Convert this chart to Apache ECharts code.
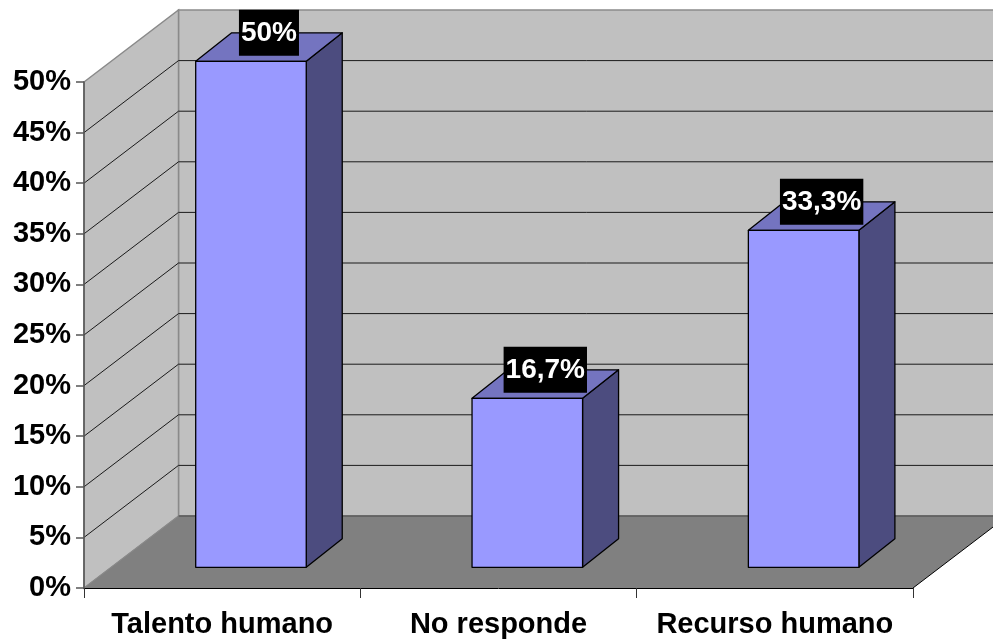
<!DOCTYPE html>
<html>
<head>
<meta charset="utf-8">
<script src="https://cdn.jsdelivr.net/npm/echarts@6/dist/echarts.min.js"></script>
<style>
  html, body { margin: 0; padding: 0; background: #fff; }
  #chart { width: 993px; height: 639px; }
</style>
</head>
<body>
<div id="chart"></div>
<script>
// Survey answers, in percent
const categories = ['Talento humano', 'No responde', 'Recurso humano'];
const percentages = [50, 16.7, 33.3];
// Value-axis ticks (percent)
const yTicks = [0, 5, 10, 15, 20, 25, 30, 35, 40, 45, 50];

const FONT = '"Liberation Sans", Arial, sans-serif';

// Depth of the 3D box (walls and floor), in pixels
const WALL_DX = 94.5, WALL_DY = -72;
// Bar placement inside the box: front-face shift and bar depth
const BAR_OX = 28.8, BAR_OY = -20.7;
const BAR_DX = 36, BAR_DY = -28.5;
const BAR_FRACTION = 0.40;

function fmtPct(v) {
  return String(v).replace('.', ',') + '%';
}

const chart = echarts.init(document.getElementById('chart'), null, { renderer: 'canvas' });

function renderWalls(params, api) {
  const cs = params.coordSys;
  const x0 = cs.x, x1 = cs.x + cs.width;
  const yMax = api.coord([0, yTicks[yTicks.length - 1]])[1];
  const y0 = api.coord([0, 0])[1];
  const children = [];
  // back wall
  children.push({
    type: 'polygon',
    shape: { points: [[x0 + WALL_DX, yMax + WALL_DY], [x1 + WALL_DX, yMax + WALL_DY],
                      [x1 + WALL_DX, y0 + WALL_DY], [x0 + WALL_DX, y0 + WALL_DY]] },
    style: { fill: '#C0C0C0', stroke: '#8a8a8a', lineWidth: 1.5 }
  });
  // side wall
  children.push({
    type: 'polygon',
    shape: { points: [[x0, yMax], [x0 + WALL_DX, yMax + WALL_DY],
                      [x0 + WALL_DX, y0 + WALL_DY], [x0, y0]] },
    style: { fill: '#C0C0C0', stroke: '#8a8a8a', lineWidth: 1.5 }
  });
  // floor
  children.push({
    type: 'polygon',
    shape: { points: [[x0, y0], [x1, y0], [x1 + WALL_DX, y0 + WALL_DY], [x0 + WALL_DX, y0 + WALL_DY]] },
    style: { fill: '#808080', stroke: null }
  });
  children.push({
    type: 'line',
    shape: { x1: x0 + WALL_DX, y1: y0 + WALL_DY, x2: x1 + WALL_DX, y2: y0 + WALL_DY },
    style: { stroke: '#5a5a5a', lineWidth: 1.5 }
  });
  children.push({
    type: 'line',
    shape: { x1: x1, y1: y0, x2: x1 + WALL_DX, y2: y0 + WALL_DY },
    style: { stroke: '#000', lineWidth: 1 }
  });
  children.push({
    type: 'line',
    shape: { x1: x0, y1: y0, x2: x0 + WALL_DX, y2: y0 + WALL_DY },
    style: { stroke: '#8a8a8a', lineWidth: 1 }
  });
  // grid lines on side wall and back wall
  yTicks.forEach(function (t) {
    if (t === 0 || t === yTicks[yTicks.length - 1]) return;
    const y = api.coord([0, t])[1];
    children.push({
      type: 'polyline',
      shape: { points: [[x0, y], [x0 + WALL_DX, y + WALL_DY], [x1 + WALL_DX, y + WALL_DY]] },
      style: { stroke: '#1a1a1a', lineWidth: 1, fill: null }
    });
  });
  return { type: 'group', children: children };
}

function renderBar(params, api) {
  const idx = api.value(0);
  const v = api.value(1);
  const top = api.coord([idx, v]);
  const base = api.coord([idx, 0]);
  const band = api.size([1, 0])[0];
  const w = band * BAR_FRACTION;
  const xl = top[0] - w / 2 + BAR_OX;
  const xr = top[0] + w / 2 + BAR_OX;
  const yt = top[1] + BAR_OY;
  const yb = base[1] + BAR_OY;
  const edge = { stroke: '#000', lineWidth: 1.3, lineJoin: 'round' };
  return {
    type: 'group',
    children: [
      {
        type: 'polygon',
        shape: { points: [[xr, yt], [xr + BAR_DX, yt + BAR_DY], [xr + BAR_DX, yb + BAR_DY], [xr, yb]] },
        style: Object.assign({ fill: '#4C4C7F' }, edge)
      },
      {
        type: 'polygon',
        shape: { points: [[xl, yt], [xr, yt], [xr + BAR_DX, yt + BAR_DY], [xl + BAR_DX, yt + BAR_DY]] },
        style: Object.assign({ fill: '#7474C0' }, edge)
      },
      {
        type: 'rect',
        shape: { x: xl, y: yt, width: xr - xl, height: yb - yt },
        style: Object.assign({ fill: '#9999FF' }, edge)
      },
      {
        type: 'text',
        z2: 10,
        style: {
          x: (xl + xr) / 2 + BAR_DX / 2,
          y: yt + BAR_DY,
          text: fmtPct(v),
          fill: '#fff',
          font: 'bold 28px ' + FONT,
          align: 'center',
          verticalAlign: 'middle',
          backgroundColor: '#000',
          padding: [9, 2, 9, 2]
        }
      }
    ]
  };
}

chart.setOption({
  animation: false,
  backgroundColor: '#fff',
  grid: { left: 84, right: 80, top: 82, bottom: 50, containLabel: false },
  xAxis: {
    type: 'category',
    data: categories,
    boundaryGap: true,
    z: 10,
    axisLine: { show: true, lineStyle: { color: '#000', width: 1 } },
    axisTick: { show: true, length: 10, lineStyle: { color: '#333', width: 1 } },
    axisLabel: {
      color: '#000', fontFamily: FONT, fontWeight: 'bold', fontSize: 29, margin: 22,
      interval: 0, hideOverlap: false
    },
    splitLine: { show: false }
  },
  yAxis: {
    type: 'value',
    min: 0,
    max: 50,
    interval: 5,
    z: 10,
    axisLine: { show: true, lineStyle: { color: '#555', width: 1.5 } },
    axisTick: { show: true, length: 8, lineStyle: { color: '#555', width: 1.5 } },
    axisLabel: {
      color: '#000', fontFamily: FONT, fontWeight: 'bold', fontSize: 29, margin: 13,
      formatter: function (v) { return fmtPct(v); }
    },
    splitLine: { show: false }
  },
  series: [
    {
      type: 'custom',
      z: 1,
      clip: false,
      silent: true,
      data: [[0, 0]],
      renderItem: renderWalls
    },
    {
      type: 'custom',
      z: 3,
      clip: false,
      data: percentages.map(function (p, i) { return [i, p]; }),
      encode: { x: 0, y: 1 },
      renderItem: renderBar
    }
  ]
});
</script>
</body>
</html>
